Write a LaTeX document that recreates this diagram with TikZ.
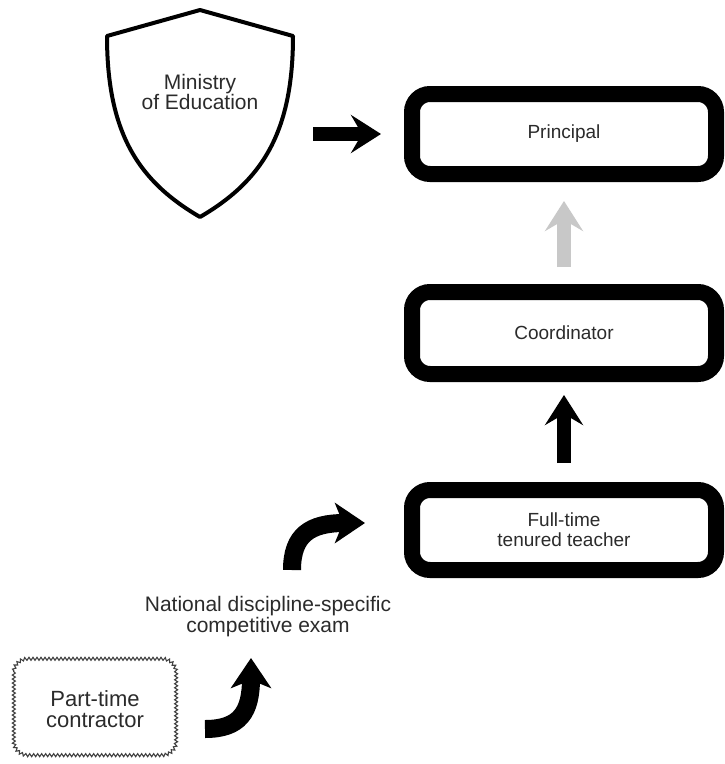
\documentclass[tikz,border=0pt]{standalone}
\usepackage{fontspec}
\setmainfont{Liberation Sans}
\usetikzlibrary{arrows.meta, positioning, decorations.pathmorphing}
\definecolor{txtgray}{HTML}{2B2B2B}
\definecolor{arrowgray}{HTML}{C8C8C8}

\begin{document}
\begin{tikzpicture}[
        x=1pt, y=-1pt,
        every node/.style={font=\fontsize{19}{20}\selectfont, text=txtgray, align=center},
        rolebox/.style={
                draw,
                line width=16pt,
                rounded corners=18pt,
                minimum width=304pt,
                minimum height=80pt,
                fill=white
            },
        contractbox/.style={
                minimum width=162pt,
                minimum height=96pt,
                font=\fontsize{22}{21}\selectfont
            },
        wavy/.style={
                draw=black!75,
                line width=1.1pt,
                decoration={snake, amplitude=1.5pt, segment length=4pt}
            },
        arrow/.style={
                -{Stealth[length=30pt,width=38pt,inset=11pt]},
                line width=14pt,
                black
            },
        bendarrow/.style={
                -{Stealth[length=30pt,width=40pt,inset=8pt]},
                line width=18pt,
                black
            }
    ]
    \useasboundingbox (0,0) rectangle (725,764);

    \node[rolebox] (principal) at (564,134) {Principal};
    \node[rolebox, minimum height=82pt, below=102pt of principal] (coordinator) {Coordinator};
    \node[rolebox, below=100pt of coordinator] (fulltime) {Full-time\\tenured teacher};

    % shield
    \node[minimum width=186pt, minimum height=207pt, inner sep=0pt] (shield) at (200,113) {};
    \draw[line width=4pt, line join=round]
        (200,10) -- (107,36) .. controls (107,135) and (140,182) .. (200,217)
        .. controls (260,182) and (293,135) .. (293,36) -- cycle;
    \node[font=\fontsize{21}{20}\selectfont] (ministry) at (200,92) {Ministry\\of Education};

    \node[font=\fontsize{21}{21}\selectfont] (exam) at (268,617) {National discipline-specific\\competitive exam};
    \node[contractbox] (parttime) at (95,709) {Part-time\\contractor};
    \draw[wavy] decorate {[rounded corners=14pt]
        ([yshift=3pt]parttime.north west) rectangle ([yshift=3pt]parttime.south east)};

    \coordinate (exam-out) at (292,570);
    \coordinate (teacher-in) at (365,523);
    \coordinate (contract-out) at (205,729);
    \coordinate (exam-in) at (251,658);

    \draw[arrow, shorten <=20pt, shorten >=23pt] (shield.east |- principal.west) -- (principal.west);
    \draw[arrow, arrowgray, shorten <=17pt, shorten >=19pt] (coordinator.north) -- (principal.south);
    \draw[arrow, shorten <=19pt, shorten >=13pt] (fulltime.north) -- (coordinator.south);

    \draw[bendarrow] (exam-out) .. controls (292,535) and (310,523) .. (teacher-in);
    \draw[bendarrow] (contract-out) .. controls (240,729) and (251,712) .. (exam-in);

\end{tikzpicture}
\end{document}
